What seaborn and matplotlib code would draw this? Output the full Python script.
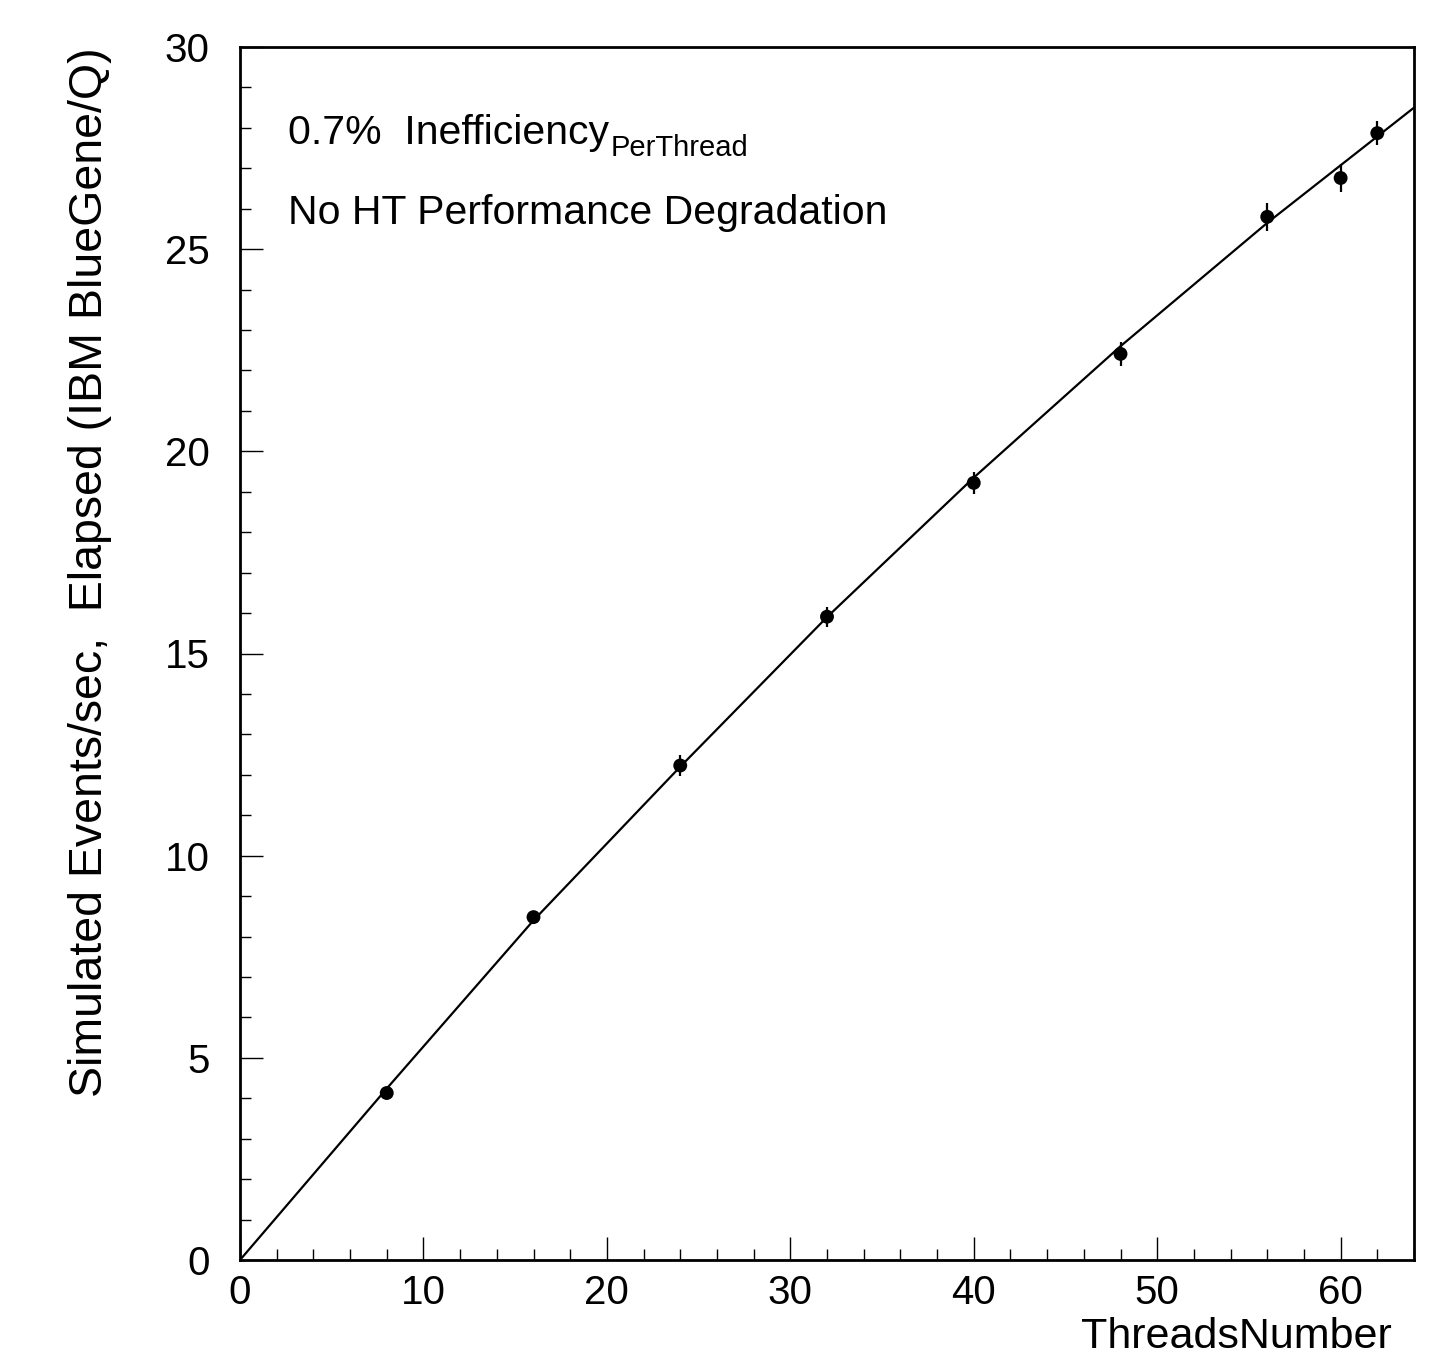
import matplotlib
matplotlib.use("Agg")
from matplotlib import pyplot as plt
from matplotlib.ticker import MultipleLocator
import seaborn as sns
import pandas as pd

sns.set_theme(style="ticks")
plt.rcParams["font.family"] = ["Liberation Sans", "DejaVu Sans"]
plt.rcParams["text.color"] = "black"
plt.rcParams["axes.labelcolor"] = "black"

# measured throughput per thread count
threads = [8, 16, 24, 32, 40, 48, 56, 60, 62]
events_per_sec = [4.13, 8.48, 12.23, 15.91, 19.22, 22.41, 25.80, 26.76, 27.87]
errors = [0.10, 0.15, 0.25, 0.25, 0.28, 0.30, 0.34, 0.34, 0.30]

# fitted curve
fit_x = [0, 8, 16, 24, 32, 40, 48, 56, 64]
fit_y = [0, 4.24, 8.40, 12.20, 15.90, 19.35, 22.60, 25.65, 28.50]

points = pd.DataFrame({"threads": threads, "rate": events_per_sec})
fit = pd.DataFrame({"threads": fit_x, "rate": fit_y})

fig = plt.figure(figsize=(14.36, 13.57), dpi=100)
ax = fig.add_axes([240 / 1436, 1 - 1260 / 1357, 1174 / 1436, 1213 / 1357])

sns.lineplot(data=fit, x="threads", y="rate", color="black", linewidth=1.6, ax=ax)
ax.errorbar(threads, events_per_sec, yerr=errors, fmt="none", ecolor="black",
            elinewidth=1.6, capsize=0)
sns.scatterplot(data=points, x="threads", y="rate", color="black", s=100,
                edgecolor="none", ax=ax, zorder=3)

ax.set_xlim(0, 64)
ax.set_ylim(0, 30)
ax.xaxis.set_major_locator(MultipleLocator(10))
ax.xaxis.set_minor_locator(MultipleLocator(2))
ax.yaxis.set_major_locator(MultipleLocator(5))
ax.yaxis.set_minor_locator(MultipleLocator(1))
ax.tick_params(which="both", direction="in", width=1.0, color="black",
               labelsize=29, labelcolor="black")
ax.tick_params(which="major", length=16.5)
ax.tick_params(which="minor", length=8)
ax.tick_params(axis="y", pad=22)
ax.tick_params(axis="x", pad=10)

for spine in ax.spines.values():
    spine.set_visible(True)
    spine.set_color("black")
    spine.set_linewidth(2)

ax.set_xlabel("ThreadsNumber", fontsize=31, ha="right", va="top")
ax.xaxis.set_label_coords(0.981, -0.0470)
ax.set_ylabel("Simulated Events/sec,  Elapsed (IBM BlueGene/Q)", fontsize=33.5, loc="top")
ax.yaxis.set_label_coords(-0.109, 1.0)

main = ax.text(2.62, 27.6, "0.7%  Inefficiency", fontsize=29.5,
               va="baseline", ha="left")
ax.annotate("PerThread", xy=(1, 0), xycoords=main, xytext=(1, -3),
            textcoords="offset points", fontsize=21, va="baseline", ha="left")
ax.text(2.62, 25.62, "No HT Performance Degradation", fontsize=29.5,
        va="baseline", ha="left")

fig.savefig("out.png", dpi=100, facecolor="white")
